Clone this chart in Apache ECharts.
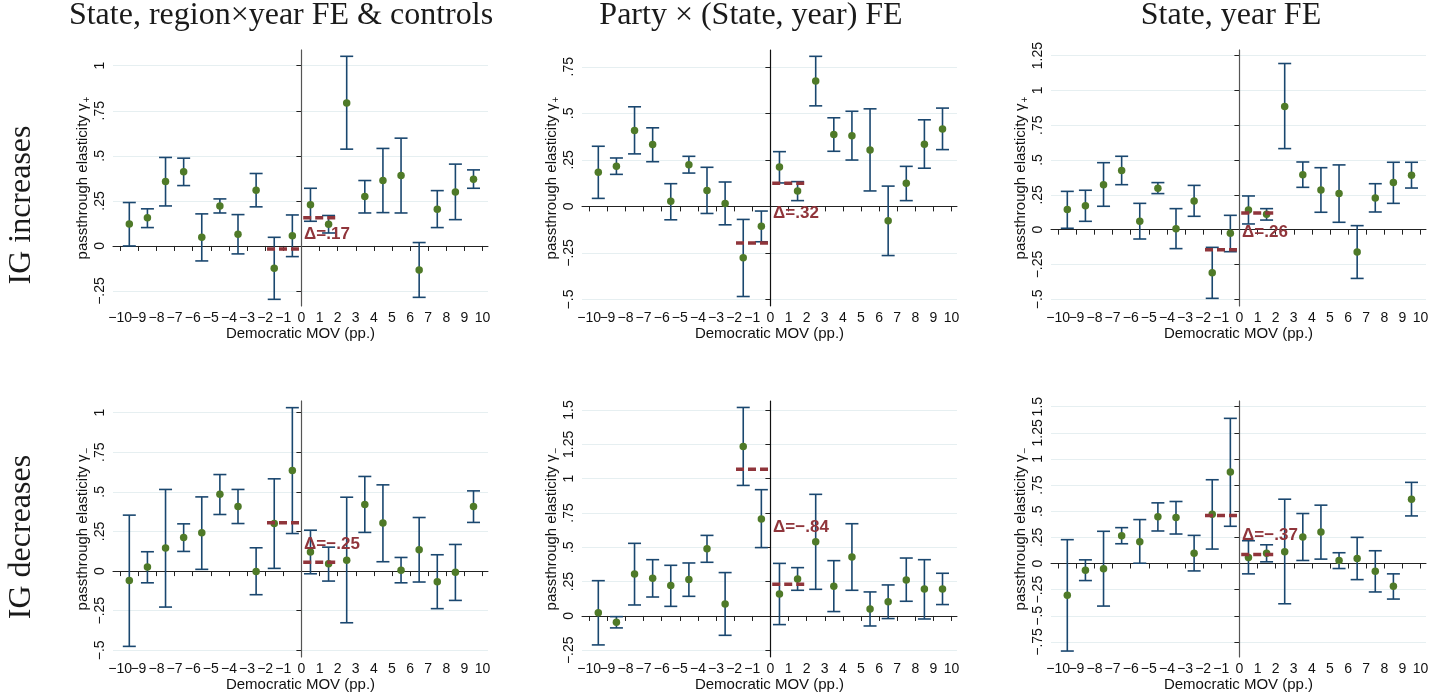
<!DOCTYPE html>
<html>
<head>
<meta charset="utf-8">
<script src="https://cdn.jsdelivr.net/npm/echarts@6/dist/echarts.min.js"></script>
<style>
html, body { margin: 0; padding: 0; background: #fff; }
#main { width: 1441px; height: 696px; }
</style>
</head>
<body>
<div id="main"></div>
<script>
// bin midpoints of the Democratic margin of victory
var bins = [-9.5, -8.5, -7.5, -6.5, -5.5, -4.5, -3.5, -2.5, -1.5, -0.5, 0.5, 1.5, 2.5, 3.5, 4.5, 5.5, 6.5, 7.5, 8.5, 9.5];
var xTicks = [-10, -9, -8, -7, -6, -5, -4, -3, -2, -1, 0, 1, 2, 3, 4, 5, 6, 7, 8, 9, 10];

var colTitles = ['State, region\u00d7year FE & controls', 'Party \u00d7 (State, year) FE', 'State, year FE'];
var rowTitles = ['IG increases', 'IG decreases'];

// IG increases
var inc1Est = [0.122, 0.156, 0.357, 0.411, 0.048, 0.222, 0.065, 0.309, -0.124, 0.057, 0.228, 0.120, 0.793, 0.274, 0.363, 0.391, -0.133, 0.204, 0.300, 0.370];
var inc1Lo = [0.000, 0.102, 0.222, 0.335, -0.083, 0.183, -0.044, 0.217, -0.296, -0.059, 0.137, 0.072, 0.537, 0.183, 0.185, 0.183, -0.285, 0.102, 0.146, 0.320];
var inc1Hi = [0.241, 0.206, 0.491, 0.487, 0.178, 0.261, 0.174, 0.402, 0.048, 0.172, 0.320, 0.169, 1.052, 0.363, 0.541, 0.598, 0.019, 0.307, 0.454, 0.422];

var inc2Est = [0.183, 0.215, 0.407, 0.332, 0.027, 0.224, 0.086, 0.016, -0.276, -0.106, 0.212, 0.083, 0.673, 0.386, 0.380, 0.303, -0.077, 0.124, 0.334, 0.416];
var inc2Lo = [0.043, 0.172, 0.282, 0.240, -0.072, 0.179, -0.038, -0.099, -0.484, -0.190, 0.126, 0.031, 0.540, 0.296, 0.249, 0.083, -0.264, 0.031, 0.205, 0.305];
var inc2Hi = [0.323, 0.260, 0.535, 0.422, 0.122, 0.269, 0.210, 0.131, -0.070, -0.025, 0.294, 0.133, 0.806, 0.476, 0.511, 0.524, 0.109, 0.215, 0.465, 0.528];

var inc3Est = [0.144, 0.172, 0.323, 0.424, 0.060, 0.297, 0.007, 0.206, -0.309, -0.026, 0.141, 0.110, 0.884, 0.395, 0.285, 0.259, -0.160, 0.227, 0.338, 0.390];
var inc3Lo = [0.010, 0.060, 0.168, 0.323, -0.067, 0.259, -0.136, 0.096, -0.493, -0.158, 0.041, 0.069, 0.582, 0.304, 0.125, 0.053, -0.350, 0.127, 0.189, 0.299];
var inc3Hi = [0.275, 0.283, 0.481, 0.527, 0.189, 0.338, 0.151, 0.318, -0.127, 0.103, 0.242, 0.151, 1.193, 0.486, 0.445, 0.465, 0.029, 0.330, 0.484, 0.484];

// IG decreases
var dec1Est = [-0.059, 0.025, 0.145, 0.212, 0.242, 0.485, 0.408, -0.002, 0.300, 0.634, 0.120, 0.046, 0.069, 0.420, 0.303, 0.006, 0.134, -0.067, -0.008, 0.408];
var dec1Lo = [-0.475, -0.074, -0.227, 0.124, 0.011, 0.357, 0.300, -0.149, 0.017, 0.237, -0.017, -0.063, -0.326, 0.244, 0.059, -0.074, -0.069, -0.237, -0.185, 0.307];
var dec1Hi = [0.353, 0.122, 0.515, 0.298, 0.468, 0.609, 0.515, 0.147, 0.582, 1.031, 0.258, 0.151, 0.466, 0.597, 0.544, 0.086, 0.338, 0.103, 0.168, 0.506];

var dec2Est = [0.024, -0.046, 0.306, 0.274, 0.221, 0.265, 0.490, 0.087, 1.235, 0.706, 0.160, 0.269, 0.541, 0.216, 0.430, 0.051, 0.104, 0.262, 0.197, 0.197];
var dec2Lo = [-0.211, -0.087, 0.080, 0.138, 0.070, 0.143, 0.391, -0.141, 0.951, 0.498, -0.063, 0.187, 0.194, 0.032, 0.187, -0.073, -0.019, 0.107, -0.022, 0.083];
var dec2Hi = [0.257, -0.005, 0.529, 0.410, 0.369, 0.386, 0.587, 0.316, 1.519, 0.920, 0.383, 0.352, 0.886, 0.403, 0.672, 0.175, 0.226, 0.422, 0.410, 0.311];

var dec3Est = [-0.304, -0.064, -0.051, 0.266, 0.208, 0.446, 0.439, 0.099, 0.471, 0.875, 0.058, 0.099, 0.112, 0.253, 0.301, 0.029, 0.048, -0.074, -0.218, 0.615];
var dec3Lo = [-0.837, -0.163, -0.407, 0.189, 0.003, 0.311, 0.282, -0.071, 0.138, 0.356, -0.099, 0.016, -0.385, 0.029, 0.042, -0.048, -0.154, -0.272, -0.340, 0.455];
var dec3Hi = [0.228, 0.035, 0.308, 0.343, 0.420, 0.580, 0.593, 0.269, 0.801, 1.388, 0.218, 0.179, 0.615, 0.478, 0.558, 0.103, 0.250, 0.122, -0.099, 0.776];

// average effect just below / just above zero, and the jump
var meanBelow = [-0.017, -0.196, -0.144, 0.305, 1.068, 0.458];
var meanAbove = [0.156, 0.124, 0.120, 0.055, 0.231, 0.087];
var spanBelow = [-1.9, -0.1];
var spanAbove = [0.1, 1.9];
var deltaText = ['\u0394=.17', '\u0394=.32', '\u0394=.26', '\u0394=\u2212.25', '\u0394=\u2212.84', '\u0394=\u2212.37'];
var deltaY = [0.063, -0.039, -0.017, 0.17, 0.646, 0.266];
var deltaX = 0.15;

// y tick labels of each panel
var yTicks1 = [-0.25, 0, 0.25, 0.5, 0.75, 1];
var yTicks2 = [-0.5, -0.25, 0, 0.25, 0.5, 0.75];
var yTicks3 = [-0.5, -0.25, 0, 0.25, 0.5, 0.75, 1, 1.25];
var yTicks4 = [-0.5, -0.25, 0, 0.25, 0.5, 0.75, 1];
var yTicks5 = [-0.25, 0, 0.25, 0.5, 0.75, 1, 1.25, 1.5];
var yTicks6 = [-0.75, -0.5, -0.25, 0, 0.25, 0.5, 0.75, 1, 1.25, 1.5];

var panels = [
	{est: inc1Est, lo: inc1Lo, hi: inc1Hi, ticks: yTicks1, ymin: -0.333, ymax: 1.087, sub: '+', zero: '#555'},
	{est: inc2Est, lo: inc2Lo, hi: inc2Hi, ticks: yTicks2, ymin: -0.535, ymax: 0.84, sub: '+', zero: '#111'},
	{est: inc3Est, lo: inc3Lo, hi: inc3Hi, ticks: yTicks3, ymin: -0.548, ymax: 1.29, sub: '+', zero: '#555'},
	{est: dec1Est, lo: dec1Lo, hi: dec1Hi, ticks: yTicks4, ymin: -0.542, ymax: 1.073, sub: '\u2212', zero: '#555'},
	{est: dec2Est, lo: dec2Lo, hi: dec2Hi, ticks: yTicks5, ymin: -0.299, ymax: 1.566, sub: '\u2212', zero: '#111'},
	{est: dec3Est, lo: dec3Lo, hi: dec3Hi, ticks: yTicks6, ymin: -0.894, ymax: 1.554, sub: '\u2212', zero: '#555'}
];

var NAVY = '#1a476f';
var GREEN = '#4f7a28';
var RED = '#90353b';
var SANS = 'Liberation Sans, Arial, sans-serif';
var SERIF = 'Liberation Serif, Times New Roman, serif';

var gridLeft = [113, 582, 1051];
var gridTop = [50, 401];

function fmtY(v) {
	var s = String(Math.abs(v)).replace(/^0\./, '.');
	return (v < 0 ? '\u2212' : '') + s;
}
function fmtX(v) {
	return v < 0 ? '\u2212' + (-v) : String(v);
}

var myChart = echarts.init(document.getElementById('main'));
var grid = [], xAxis = [], xAxisFirst = [], yAxis = [], series = [];

panels.forEach(function(p, i) {
	var col = i % 3, row = Math.floor(i / 3);
	grid.push({left: gridLeft[col], top: gridTop[row], width: 375, height: 256});
	xAxis.push({
		type: 'value', gridIndex: i, min: -10.4, max: 10.3,
		name: 'Democratic MOV (pp.)', nameLocation: 'middle', nameGap: 19,
		nameTextStyle: {fontFamily: SANS, fontSize: 15, color: '#111'},
		axisLine: {show: true, lineStyle: {color: '#222', width: 1}},
		axisTick: {show: true, length: 5, lineStyle: {color: '#222'}, customValues: xTicks},
		axisLabel: {customValues: xTicks.slice(1), formatter: fmtX, margin: 5,
			fontFamily: SANS, fontSize: 14, color: '#111'},
		splitLine: {show: false}
	});
	// the first tick label sits on its own axis so the overlap check keeps both -10 and -9
	xAxisFirst.push({
		type: 'value', gridIndex: i, min: -10.4, max: 10.3, position: 'bottom',
		axisLine: {show: false}, axisTick: {show: false}, splitLine: {show: false},
		axisLabel: {customValues: xTicks.slice(0, 1), formatter: fmtX, margin: 5,
			fontFamily: SANS, fontSize: 14, color: '#111'}
	});
	yAxis.push({
		type: 'value', gridIndex: i, min: p.ymin, max: p.ymax,
		name: '{a|passthrough elasticity \u03b3}{b|' + p.sub + '}', nameLocation: 'middle', nameGap: 20,
		nameTextStyle: {fontFamily: SANS, fontSize: 15, color: '#111',
			rich: {
				a: {fontFamily: SANS, fontSize: 15, color: '#111', lineHeight: 18},
				b: {fontFamily: SANS, fontSize: 10, color: '#111', lineHeight: 18, verticalAlign: 'bottom', padding: [6, 0, 0, 1]}
			}},
		axisLine: {show: true, lineStyle: {color: '#222', width: 1}},
		axisTick: {show: true, length: 5, lineStyle: {color: '#222'}, customValues: p.ticks},
		axisLabel: {customValues: p.ticks, formatter: fmtY, rotate: 90, margin: 6, showMinLabel: true, showMaxLabel: true,
			fontFamily: SANS, fontSize: 14, color: '#111'},
		splitLine: {show: true, lineStyle: {color: '#e6eff1', width: 1}}
	});

	series.push({
		type: 'custom', xAxisIndex: i, yAxisIndex: i,
		data: bins.map(function(b, j) { return [b, p.lo[j], p.hi[j]]; }),
		encode: {x: 0, y: [1, 2]},
		renderItem: function(params, api) {
			var x = api.value(0);
			var top = api.coord([x, api.value(2)]);
			var bot = api.coord([x, api.value(1)]);
			var w = 6.5;
			var st = {stroke: NAVY, lineWidth: 1.6};
			return {type: 'group', children: [
				{type: 'line', shape: {x1: top[0], y1: top[1], x2: bot[0], y2: bot[1]}, style: st},
				{type: 'line', shape: {x1: top[0] - w, y1: top[1], x2: top[0] + w, y2: top[1]}, style: st},
				{type: 'line', shape: {x1: bot[0] - w, y1: bot[1], x2: bot[0] + w, y2: bot[1]}, style: st}
			]};
		},
		z: 2
	});
	series.push({
		type: 'scatter', xAxisIndex: i, yAxisIndex: i,
		data: bins.map(function(b, j) { return [b, p.est[j]]; }),
		symbolSize: 7.5,
		itemStyle: {color: GREEN, opacity: 1},
		markLine: {
			silent: true, symbol: ['none', 'none'], label: {show: false},
			lineStyle: {color: p.zero, width: 1.2, type: 'solid', opacity: 1},
			data: [{xAxis: 0}]
		},
		z: 3
	});
	series.push({
		type: 'line', xAxisIndex: i, yAxisIndex: i,
		data: [[spanBelow[0], meanBelow[i]], [spanBelow[1], meanBelow[i]]],
		symbol: 'none', lineStyle: {color: RED, width: 3.5, type: [8, 4], opacity: 1}, z: 4
	});
	series.push({
		type: 'line', xAxisIndex: i, yAxisIndex: i,
		data: [[spanAbove[0], meanAbove[i]], [spanAbove[1], meanAbove[i]]],
		symbol: 'none', lineStyle: {color: RED, width: 3.5, type: [8, 4], opacity: 1}, z: 4
	});
	series.push({
		type: 'scatter', xAxisIndex: i, yAxisIndex: i,
		data: [[deltaX, deltaY[i]]],
		symbolSize: 0,
		itemStyle: {opacity: 1},
		label: {show: true, position: 'right', distance: 0, formatter: deltaText[i], opacity: 1,
			fontFamily: SANS, fontSize: 17, fontWeight: 'bold', color: RED},
		z: 5
	});
});

var titleCenters = [281, 751, 1231];
var title = colTitles.map(function(t, k) {
	return {text: t, left: titleCenters[k], top: 0, textAlign: 'center', padding: 0,
		textStyle: {fontFamily: SERIF, fontSize: 32, fontWeight: 'normal', color: '#1a1a1a'}};
});

var rowCenters = [205, 537];
var graphic = rowTitles.map(function(t, k) {
	return {type: 'text', x: 22, y: rowCenters[k], rotation: Math.PI / 2,
		style: {text: t, fontFamily: SERIF, fontSize: 32, fill: '#1a1a1a', align: 'center', verticalAlign: 'middle'}};
});

option = {
	animation: false,
	title: title,
	graphic: graphic,
	grid: grid,
	xAxis: xAxis.concat(xAxisFirst),
	yAxis: yAxis,
	series: series
};
myChart.setOption(option);
</script>
</body>
</html>
